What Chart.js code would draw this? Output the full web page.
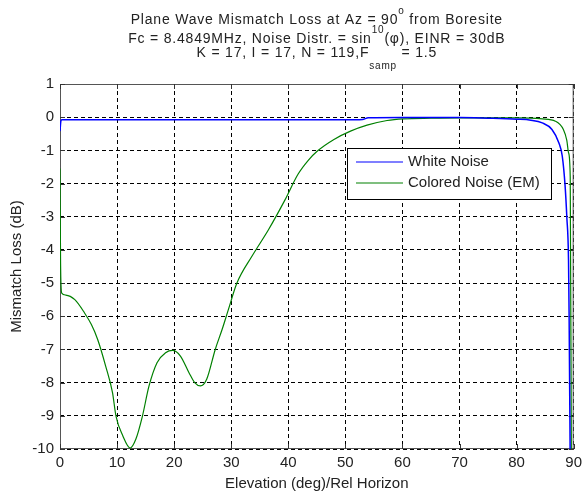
<!DOCTYPE html>
<html>
<head>
<meta charset="utf-8">
<script src="https://cdn.jsdelivr.net/npm/chart.js@4.4.1/dist/chart.umd.min.js"></script>
<style>
  html, body { margin: 0; padding: 0; background: #fff; }
  #wrap { width: 587px; height: 498px; }
</style>
</head>
<body>
<div id="wrap"><canvas id="mismatchChart" width="587" height="498"></canvas></div>
<script>
// data
const whiteX = [0, 0.15, 0.3, 20, 40, 50, 53, 54, 60, 70, 75, 80, 82.5, 84.5, 86.2, 87.4, 88, 88.5, 88.8, 89.1, 89.2, 89.4];
const whiteY = [-0.42, -0.12, -0.08, -0.08, -0.08, -0.08, -0.07, -0.02, -0.01, -0.01, -0.03, -0.06, -0.09, -0.17, -0.37, -0.77, -1.17, -2.07, -3.0, -4.3, -5.9, -10.5];

const coloredX = [0, 0.1, 0.3, 1, 2.6, 4.3, 5.5, 6.6, 8, 9.2, 9.8, 11, 12.3, 13.3, 14.4, 15.6, 17, 18.5, 19.7, 21.1, 22.6, 23.6, 24.6, 25.7, 27.2, 28.4, 29.5, 31, 33.6, 36.5, 39.4, 41.7, 43.5, 45.1, 48, 50.9, 53.8, 57.3, 60.2, 65, 70, 80, 84.5, 86.8, 88.2, 88.8, 89.1, 89.4, 89.6];
const coloredY = [-1.55, -4.4, -5.3, -5.36, -5.5, -5.9, -6.25, -6.7, -7.5, -8.3, -9.0, -9.6, -9.97, -9.7, -9.04, -8.1, -7.4, -7.1, -7.03, -7.2, -7.7, -8.0, -8.1, -7.9, -7.0, -6.4, -5.8, -5.0, -4.2, -3.4, -2.5, -1.72, -1.3, -1.02, -0.67, -0.42, -0.24, -0.1, -0.05, -0.03, -0.02, -0.02, -0.05, -0.12, -0.37, -0.7, -1.07, -1.8, -10.5];

const seriesLabels = ['White Noise', 'Colored Noise (EM)'];
const xTicks = [0, 10, 20, 30, 40, 50, 60, 70, 80, 90];
const yTicks = [1, 0, -1, -2, -3, -4, -5, -6, -7, -8, -9, -10];

// title lines, split in pieces so that super/subscripts can be drawn
const titleLines = [
  [{ t: 'Plane Wave Mismatch Loss at Az = 90' }, { t: 'o', sup: true }, { t: ' from Boresite' }],
  [{ t: 'Fc = 8.4849MHz, Noise Distr. = sin' }, { t: '10', sup: true }, { t: '(φ), EINR = 30dB' }],
  [{ t: 'K = 17, I = 17, N = 119,F' }, { t: 'samp', sub: true }, { t: ' = 1.5' }]
];
const xTitle = 'Elevation (deg)/Rel Horizon';
const yTitle = 'Mismatch Loss (dB)';

const FONT = '"Liberation Sans", Arial, sans-serif';
const textColor = '#222';

function toPoints(xs, ys) {
  return xs.map((x, i) => ({ x: x, y: ys[i] }));
}

// title, axis titles, box and legend drawn by hand (MATLAB look)
const matlabDecor = {
  id: 'matlabDecor',
  beforeDatasetsDraw(chart) {
    const { ctx, chartArea: a } = chart;
    ctx.save();
    // box
    ctx.strokeStyle = '#555';
    ctx.lineWidth = 1;
    ctx.setLineDash([]);
    ctx.strokeRect(a.left + 0.5, a.top + 0.5, a.right - a.left - 1, a.bottom - a.top - 1);
    // inner tick marks
    ctx.strokeStyle = '#333';
    ctx.beginPath();
    const xs = chart.scales.x, ys = chart.scales.y;
    xTicks.forEach(v => {
      const px = Math.round(xs.getPixelForValue(v)) + 0.5;
      ctx.moveTo(px, a.bottom); ctx.lineTo(px, a.bottom - 5);
      ctx.moveTo(px, a.top); ctx.lineTo(px, a.top + 5);
    });
    yTicks.forEach(v => {
      const py = Math.round(ys.getPixelForValue(v)) + 0.5;
      ctx.moveTo(a.left, py); ctx.lineTo(a.left + 5, py);
      ctx.moveTo(a.right, py); ctx.lineTo(a.right - 5, py);
    });
    ctx.stroke();
    ctx.restore();
  },
  afterDraw(chart) {
    const { ctx, chartArea: a } = chart;
    ctx.save();
    ctx.fillStyle = textColor;
    ctx.textBaseline = 'alphabetic';

    // title
    const cx = (a.left + a.right) / 2;
    const baselines = [24, 43, 57];
    ctx.letterSpacing = '0.8px';
    titleLines.forEach((line, i) => {
      let w = 0;
      line.forEach(p => {
        ctx.font = (p.sup || p.sub ? 10 : 14) + 'px ' + FONT;
        p.w = ctx.measureText(p.t).width;
        w += p.w;
      });
      let x = cx - w / 2;
      ctx.textAlign = 'left';
      line.forEach(p => {
        ctx.font = (p.sup || p.sub ? 10 : 14) + 'px ' + FONT;
        let y = baselines[i];
        if (p.sup) y -= 10;
        if (p.sub) y += 11.5;
        ctx.fillText(p.t, x, y);
        x += p.w;
      });
    });
    ctx.letterSpacing = '0px';

    // axis titles
    ctx.font = '15px ' + FONT;
    ctx.textAlign = 'center';
    ctx.textBaseline = 'middle';
    ctx.fillText(xTitle, cx, 484);
    ctx.save();
    ctx.translate(17, (a.top + a.bottom) / 2);
    ctx.rotate(-Math.PI / 2);
    ctx.fillText(yTitle, 0, 0);
    ctx.restore();

    // legend
    const lx = 347, ly = 148, lw = 204, lh = 51;
    ctx.fillStyle = '#fff';
    ctx.fillRect(lx, ly, lw, lh);
    ctx.strokeStyle = '#000';
    ctx.lineWidth = 1;
    ctx.strokeRect(lx + 0.5, ly + 0.5, lw, lh);
    chart.data.datasets.forEach((ds, i) => {
      const y = ly + 14 + i * 21;
      ctx.strokeStyle = ds.borderColor;
      ctx.lineWidth = 1.2;
      ctx.beginPath();
      ctx.moveTo(lx + 9, y);
      ctx.lineTo(lx + 56, y);
      ctx.stroke();
      ctx.fillStyle = textColor;
      ctx.textAlign = 'left';
      ctx.textBaseline = 'middle';
      ctx.font = '15px ' + FONT;
      ctx.fillText(ds.label, lx + 61, y);
    });
    ctx.restore();
  }
};

new Chart(document.getElementById('mismatchChart'), {
  type: 'line',
  data: {
    datasets: [
      {
        label: seriesLabels[0],
        data: toPoints(whiteX, whiteY),
        borderColor: '#0000ff',
        borderWidth: 1.5,
        pointRadius: 0,
        cubicInterpolationMode: 'monotone',
        fill: false
      },
      {
        label: seriesLabels[1],
        data: toPoints(coloredX, coloredY),
        borderColor: '#008000',
        borderWidth: 1.2,
        pointRadius: 0,
        cubicInterpolationMode: 'monotone',
        fill: false
      }
    ]
  },
  options: {
    responsive: false,
    animation: false,
    devicePixelRatio: 1,
    layout: { padding: { top: 84, right: 9, left: 0, bottom: 0 } },
    plugins: {
      legend: { display: false },
      title: { display: false },
      tooltip: { enabled: false }
    },
    scales: {
      x: {
        type: 'linear',
        min: 0,
        max: 90,
        afterFit(s) { s.height = 49; },
        afterBuildTicks(s) { s.ticks = xTicks.map(v => ({ value: v })); },
        ticks: { color: textColor, font: { family: FONT, size: 15 }, padding: 5, maxRotation: 0 },
        grid: { color: '#000', lineWidth: 1, drawTicks: false },
        border: { display: false, dash: [4, 3] }
      },
      y: {
        type: 'linear',
        min: -10,
        max: 1,
        afterFit(s) { s.width = 60; },
        afterBuildTicks(s) { s.ticks = yTicks.map(v => ({ value: v })); },
        ticks: { color: textColor, font: { family: FONT, size: 15 }, padding: 6 },
        grid: { color: '#000', lineWidth: 1, drawTicks: false },
        border: { display: false, dash: [4, 3] }
      }
    }
  },
  plugins: [matlabDecor]
});
</script>
</body>
</html>
